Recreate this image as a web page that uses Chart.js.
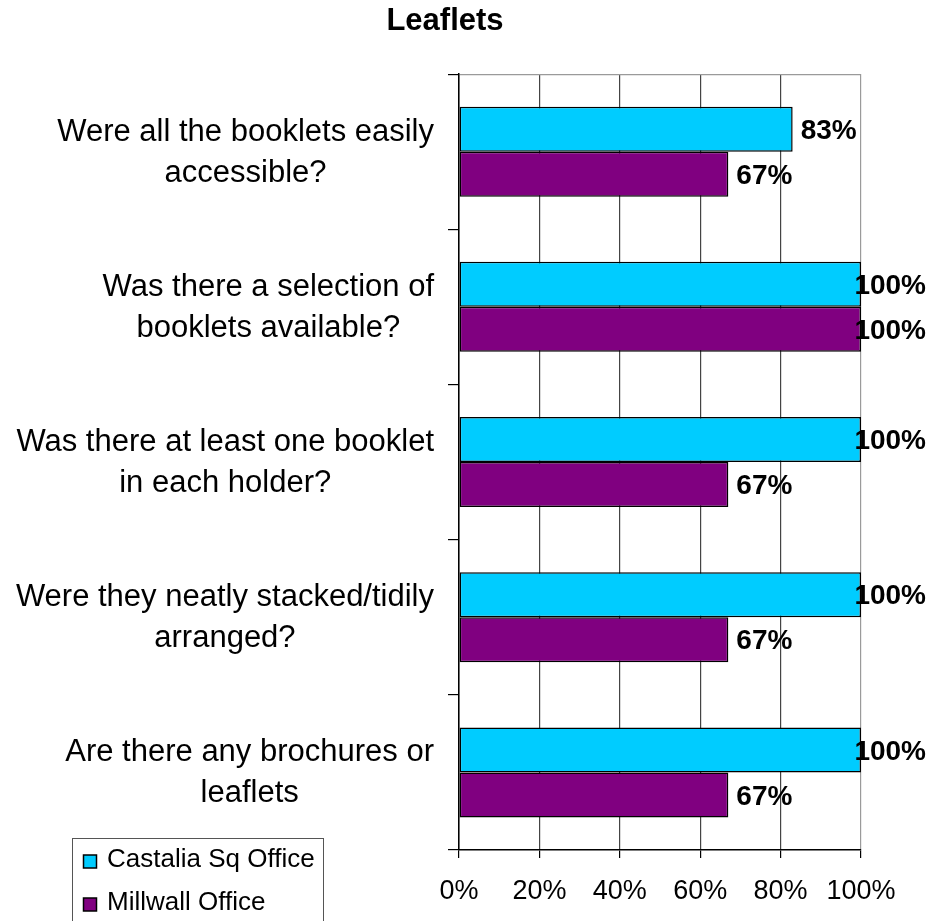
<!DOCTYPE html>
<html>
<head>
<meta charset="utf-8">
<title>Leaflets</title>
<script src="https://cdn.jsdelivr.net/npm/chart.js@4.4.1/dist/chart.umd.min.js"></script>
<style>
  html, body { margin: 0; padding: 0; background: #ffffff; }
  #wrap { width: 933px; height: 921px; position: relative; }
</style>
</head>
<body>
<div id="wrap"><canvas id="chart" width="933" height="921"></canvas></div>
<script>
// Survey questions (each split over two lines)
const questions = [
  ["Were all the booklets easily", "accessible?"],
  ["Was there a selection of", "booklets available?"],
  ["Was there at least one booklet", "in each holder?"],
  ["Were they neatly stacked/tidily", "arranged?"],
  ["Are there any brochures or", "leaflets"]
];

// Percentage of "yes" answers per office
const castaliaValues = [83, 100, 100, 100, 100];
const millwallValues = [67, 100, 67, 67, 67];

const seriesNames = ["Castalia Sq Office", "Millwall Office"];
const seriesColors = ["#00CCFF", "#800080"];

// Percent axis
const axisMin = 0;
const axisMax = 100;
const axisStep = 20;

const FONT = "'Liberation Sans', Arial, Helvetica, sans-serif";

// Question labels: each label's lines are centred on each other, block right-aligned
const questionLabels = {
  id: 'questionLabels',
  afterDraw(chart) {
    const ctx = chart.ctx;
    const yScale = chart.scales.y;
    const rightEdge = 434;
    const lineGap = 41;
    ctx.save();
    ctx.font = "31px " + FONT;
    ctx.fillStyle = "#000";
    ctx.textAlign = "center";
    ctx.textBaseline = "middle";
    questions.forEach((lines, i) => {
      const yc = yScale.getPixelForValue(i);
      const widest = Math.max(...lines.map(l => ctx.measureText(l).width));
      const xc = rightEdge - widest / 2;
      const y0 = yc - (lines.length - 1) * lineGap / 2;
      lines.forEach((l, k) => ctx.fillText(l, xc, y0 + k * lineGap + 1));
    });
    ctx.restore();
  }
};

// Value labels at the end of each bar
const valueLabels = {
  id: 'valueLabels',
  afterDatasetsDraw(chart) {
    const ctx = chart.ctx;
    ctx.save();
    ctx.font = "bold 28px " + FONT;
    ctx.fillStyle = "#000";
    ctx.textAlign = "left";
    ctx.textBaseline = "middle";
    chart.data.datasets.forEach((ds, di) => {
      const meta = chart.getDatasetMeta(di);
      meta.data.forEach((bar, i) => {
        const txt = ds.data[i] + "%";
        const w = ctx.measureText(txt).width;
        const x = Math.min(bar.x + 8, chart.width - 7 - w);
        ctx.fillText(txt, x, bar.y + 2);
      });
    });
    ctx.restore();
  }
};

// Boxed legend in the lower-left corner
const boxedLegend = {
  id: 'boxedLegend',
  afterDraw(chart) {
    const ctx = chart.ctx;
    const bx = 72.5, by = 838.5, bw = 251, bh = 90;
    ctx.save();
    ctx.strokeStyle = "#555";
    ctx.lineWidth = 1;
    ctx.strokeRect(bx, by, bw, bh);
    ctx.font = "26px " + FONT;
    ctx.textAlign = "left";
    ctx.textBaseline = "middle";
    chart.data.datasets.forEach((ds, i) => {
      const yc = 860 + i * 43;
      ctx.fillStyle = ds.backgroundColor;
      ctx.fillRect(83.5, yc - 5, 13, 13);
      ctx.strokeStyle = "#000";
      ctx.lineWidth = 1.5;
      ctx.strokeRect(83.5, yc - 5, 13, 13);
      ctx.fillStyle = "#000";
      ctx.fillText(ds.label, 107, yc);
    });
    ctx.restore();
  }
};

new Chart(document.getElementById('chart'), {
  type: 'bar',
  data: {
    labels: questions,
    datasets: [
      {
        label: seriesNames[0],
        data: castaliaValues,
        backgroundColor: seriesColors[0],
        borderColor: "#000",
        borderWidth: 1.5,
        borderSkipped: false
      },
      {
        label: seriesNames[1],
        data: millwallValues,
        backgroundColor: seriesColors[1],
        borderColor: "#000",
        borderWidth: 1.5,
        borderSkipped: false
      }
    ]
  },
  options: {
    indexAxis: 'y',
    responsive: false,
    animation: false,
    devicePixelRatio: 1,
    layout: { padding: { left: 29, right: 72, top: 0, bottom: 0 } },
    datasets: {
      bar: { categoryPercentage: 0.58, barPercentage: 1.0 }
    },
    plugins: {
      legend: { display: false },
      tooltip: { enabled: false },
      title: {
        display: true,
        text: "Leaflets",
        color: "#000",
        font: { family: FONT, size: 31, weight: 'bold', lineHeight: 1.1 },
        padding: { top: 4, bottom: 36 }
      }
    },
    scales: {
      x: {
        min: axisMin,
        max: axisMax,
        ticks: {
          stepSize: axisStep,
          color: "#000",
          padding: 17,
          font: { family: FONT, size: 27 },
          maxRotation: 0,
          callback: v => v + "%"
        },
        grid: {
          color: ctx => (ctx.index === 5 ? "#9a9a9a" : "#444"),
          lineWidth: 1.2,
          tickLength: 8,
          tickColor: "#000"
        },
        border: { display: true, color: "#000", width: 1.5 },
        afterFit(scale) { scale.height = 71; }
      },
      y: {
        ticks: { display: false },
        grid: {
          offset: true,
          color: ctx => (ctx.index === 0 ? "#9a9a9a" : "rgba(0,0,0,0)"),
          lineWidth: 1.2,
          tickLength: 11,
          tickColor: "#000"
        },
        border: { display: true, color: "#000", width: 1.5 },
        afterFit(scale) { scale.width = 430; }
      }
    }
  },
  plugins: [questionLabels, valueLabels, boxedLegend]
});
</script>
</body>
</html>
